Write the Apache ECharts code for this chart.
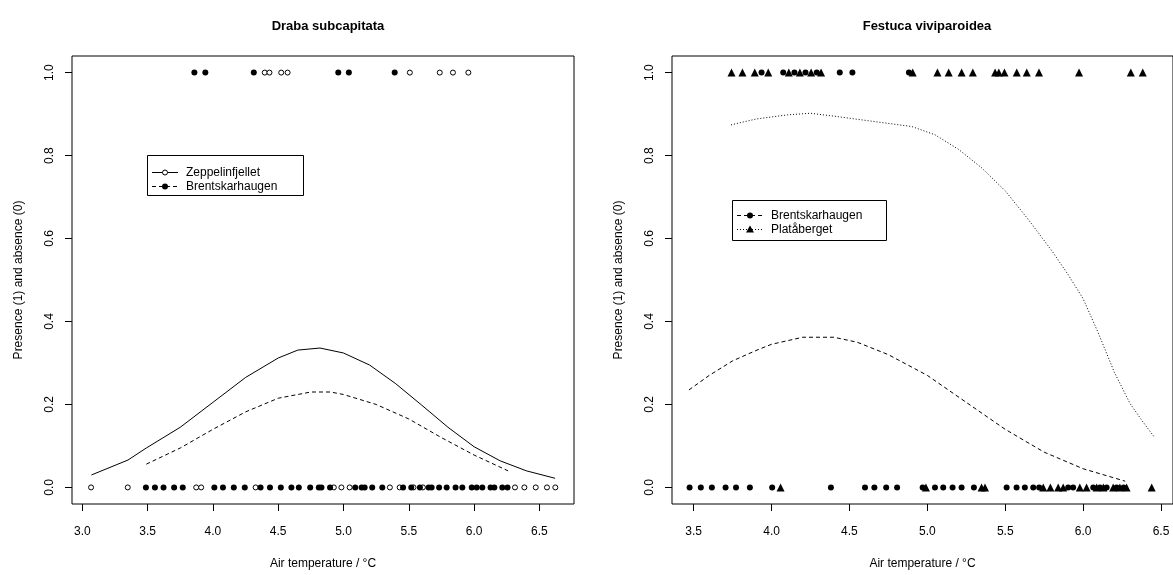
<!DOCTYPE html>
<html><head><meta charset="utf-8">
<script src="https://cdn.jsdelivr.net/npm/echarts@6/dist/echarts.min.js"></script>
<style>html,body{margin:0;padding:0;background:#fff}#c{width:1173px;height:575px}</style>
</head><body><div id="c"></div>
<script>
// ---------- tick labels ----------
const xTicksLeft = [3.0, 3.5, 4.0, 4.5, 5.0, 5.5, 6.0, 6.5];
const xTicksRight = [3.5, 4.0, 4.5, 5.0, 5.5, 6.0, 6.5];
const yTicks = [0, 0.2, 0.4, 0.6, 0.8, 1.0];

// ---------- Draba subcapitata ----------
const zepPresent = [4.397, 4.433, 4.523, 4.572, 5.508, 5.737, 5.838, 5.956];
const zepAbsent = [3.067, 3.348, 3.872, 3.910, 4.327, 4.926, 4.984, 5.047, 5.355, 5.430, 5.536, 5.608, 6.313, 6.385, 6.472, 6.558, 6.622];
const brentPresentL = [3.858, 3.942, 4.313, 4.960, 5.041, 5.392];
const brentAbsentL = [3.487, 3.556, 3.622, 3.703, 3.769, 4.011, 4.077, 4.160, 4.244, 4.365, 4.437, 4.520, 4.601, 4.658, 4.745, 4.811, 4.831, 4.897, 5.090, 5.139, 5.162, 5.220, 5.297, 5.456, 5.519, 5.585, 5.652, 5.675, 5.732, 5.790, 5.858, 5.910, 5.982, 6.020, 6.063, 6.126, 6.155, 6.216, 6.256];
const zepCurveX = [3.07, 3.35, 3.49, 3.75, 4.0, 4.25, 4.5, 4.65, 4.82, 5.0, 5.2, 5.4, 5.6, 5.8, 6.0, 6.2, 6.4, 6.62];
const zepCurveY = [0.030, 0.066, 0.095, 0.145, 0.205, 0.265, 0.312, 0.331, 0.336, 0.324, 0.295, 0.250, 0.198, 0.145, 0.098, 0.064, 0.040, 0.022];
const brentCurveLX = [3.49, 3.75, 4.0, 4.25, 4.5, 4.75, 4.9, 5.0, 5.25, 5.5, 5.75, 6.0, 6.26];
const brentCurveLY = [0.056, 0.095, 0.140, 0.182, 0.215, 0.230, 0.230, 0.224, 0.200, 0.165, 0.120, 0.078, 0.040];

// ---------- Festuca viviparoidea ----------
const brentPresentR = [3.936, 4.075, 4.147, 4.218, 4.290, 4.438, 4.519, 4.882];
const brentAbsentR = [3.474, 3.546, 3.617, 3.705, 3.772, 3.861, 4.004, 4.381, 4.600, 4.660, 4.736, 4.806, 4.970, 5.049, 5.102, 5.162, 5.220, 5.299, 5.509, 5.573, 5.626, 5.680, 5.718, 5.904, 5.936, 6.065, 6.108, 6.151, 6.215, 6.260];
const plataPresent = [3.743, 3.813, 3.892, 3.979, 4.111, 4.182, 4.254, 4.318, 4.906, 5.065, 5.137, 5.220, 5.292, 5.435, 5.459, 5.495, 5.574, 5.638, 5.717, 5.974, 6.306, 6.383];
const plataAbsent = [4.058, 4.991, 5.348, 5.370, 5.744, 5.790, 5.840, 5.872, 5.979, 6.022, 6.087, 6.130, 6.193, 6.236, 6.279, 6.440];
const brentCurveRX = [3.47, 3.6, 3.75, 3.9, 4.0, 4.2, 4.4, 4.55, 4.75, 5.0, 5.25, 5.5, 5.75, 6.0, 6.27];
const brentCurveRY = [0.235, 0.270, 0.305, 0.330, 0.345, 0.362, 0.362, 0.350, 0.320, 0.270, 0.205, 0.140, 0.085, 0.045, 0.015];
const plataCurveX = [3.74, 3.9, 4.1, 4.25, 4.4, 4.6, 4.9, 5.05, 5.2, 5.35, 5.5, 5.65, 5.8, 5.9, 6.0, 6.1, 6.2, 6.3, 6.38, 6.46];
const plataCurveY = [0.874, 0.888, 0.898, 0.902, 0.895, 0.885, 0.870, 0.850, 0.815, 0.770, 0.715, 0.645, 0.570, 0.515, 0.455, 0.370, 0.278, 0.203, 0.160, 0.120];

const FONT = '"Liberation Sans", Arial, sans-serif';
const pts = (xs, y) => xs.map(x => [x, y]);
const pairs = (xs, ys) => xs.map((x, i) => [x, ys[i]]);

function xAxis(gi, min, max, ticks) {
  return {
    type: 'value', gridIndex: gi, min: min, max: max, position: 'bottom',
    name: 'Air temperature / \u00b0C', nameLocation: 'middle', nameGap: 54,
    nameTextStyle: { fontFamily: FONT, fontSize: 12, color: '#000' },
    axisLine: { show: false, onZero: false },
    splitLine: { show: false },
    axisTick: { show: true, length: 7, inside: false, customValues: ticks, lineStyle: { color: '#000', width: 1 } },
    axisLabel: { customValues: ticks, margin: 22, fontFamily: FONT, fontSize: 12, color: '#000', formatter: v => v.toFixed(1) }
  };
}
function yAxis(gi) {
  return {
    type: 'value', gridIndex: gi, min: -0.04, max: 1.04, position: 'left',
    name: 'Presence (1) and absence (0)', nameLocation: 'middle', nameGap: 47, nameRotate: 90,
    nameTextStyle: { fontFamily: FONT, fontSize: 12, color: '#000' },
    axisLine: { show: false, onZero: false },
    splitLine: { show: false },
    axisTick: { show: true, length: 7, customValues: yTicks, lineStyle: { color: '#000', width: 1 } },
    axisLabel: { customValues: yTicks, rotate: 90, margin: 16, fontFamily: FONT, fontSize: 12, color: '#000', formatter: v => v.toFixed(1) }
  };
}
const openCircle = { color: '#fff', borderColor: '#000', borderWidth: 1, opacity: 1 };
const filled = { color: '#000', borderColor: '#000', borderWidth: 0, opacity: 1 };
function scatter(gi, data, symbol, size, style) {
  return { type: 'scatter', xAxisIndex: gi, yAxisIndex: gi, data: data, symbol: symbol, symbolSize: size, itemStyle: style, silent: true, animation: false, z: 3 };
}
function curve(gi, data, type) {
  return { type: 'line', xAxisIndex: gi, yAxisIndex: gi, data: data, showSymbol: false, symbol: 'none', smooth: false,
    lineStyle: { color: '#000', width: 1, type: type }, silent: true, animation: false, z: 2 };
}

const chart = echarts.init(document.getElementById('c'), null, { renderer: 'canvas' });
chart.setOption({
  animation: false,
  backgroundColor: '#fff',
  title: [
    { text: 'Draba subcapitata', left: 323, top: 15, textAlign: 'center', textStyle: { fontFamily: FONT, fontSize: 13, fontWeight: 'bold', color: '#000' } },
    { text: 'Festuca viviparoidea', left: 922, top: 15, textAlign: 'center', textStyle: { fontFamily: FONT, fontSize: 13, fontWeight: 'bold', color: '#000' } }
  ],
  grid: [
    { left: 72, right: 599, top: 56, bottom: 66, show: true, borderColor: '#000', borderWidth: 1, backgroundColor: 'transparent' },
    { left: 672, right: 0, top: 56, bottom: 66, show: true, borderColor: '#000', borderWidth: 1, backgroundColor: 'transparent' }
  ],
  xAxis: [xAxis(0, 2.921, 6.765, xTicksLeft), xAxis(1, 3.361, 6.577, xTicksRight)],
  yAxis: [yAxis(0), yAxis(1)],
  series: [
    curve(0, pairs(zepCurveX, zepCurveY), 'solid'),
    curve(0, pairs(brentCurveLX, brentCurveLY), [4, 3]),
    scatter(0, pts(zepPresent, 1), 'circle', 5, openCircle),
    scatter(0, pts(zepAbsent, 0), 'circle', 5, openCircle),
    scatter(0, pts(brentPresentL, 1), 'circle', 6, filled),
    scatter(0, pts(brentAbsentL, 0), 'circle', 6, filled),
    curve(1, pairs(brentCurveRX, brentCurveRY), [4, 3]),
    curve(1, pairs(plataCurveX, plataCurveY), [1, 2]),
    scatter(1, pts(brentPresentR, 1), 'circle', 6, filled),
    scatter(1, pts(brentAbsentR, 0), 'circle', 6, filled),
    scatter(1, pts(plataPresent, 1), 'triangle', 8, filled),
    scatter(1, pts(plataAbsent, 0), 'triangle', 8, filled)
  ],
  graphic: [
    // left legend
    { type: 'rect', shape: { x: 147.5, y: 155.5, width: 156, height: 40 }, style: { fill: '#fff', stroke: '#000', lineWidth: 1 }, z: 10 },
    { type: 'line', shape: { x1: 152, y1: 172.5, x2: 178, y2: 172.5 }, style: { stroke: '#000', lineWidth: 1 }, z: 11 },
    { type: 'circle', shape: { cx: 165, cy: 172.5, r: 2.5 }, style: { fill: '#fff', stroke: '#000', lineWidth: 1 }, z: 12 },
    { type: 'text', style: { x: 186, y: 172.5, text: 'Zeppelinfjellet', font: '12px ' + FONT, fill: '#000', verticalAlign: 'middle' }, z: 12 },
    { type: 'line', shape: { x1: 152, y1: 186.5, x2: 178, y2: 186.5 }, style: { stroke: '#000', lineWidth: 1, lineDash: [4, 3] }, z: 11 },
    { type: 'circle', shape: { cx: 165, cy: 186.5, r: 3 }, style: { fill: '#000' }, z: 12 },
    { type: 'text', style: { x: 186, y: 186.5, text: 'Brentskarhaugen', font: '12px ' + FONT, fill: '#000', verticalAlign: 'middle' }, z: 12 },
    // right legend
    { type: 'rect', shape: { x: 732.5, y: 200.5, width: 154, height: 40 }, style: { fill: '#fff', stroke: '#000', lineWidth: 1 }, z: 10 },
    { type: 'line', shape: { x1: 737, y1: 215.5, x2: 763, y2: 215.5 }, style: { stroke: '#000', lineWidth: 1, lineDash: [4, 3] }, z: 11 },
    { type: 'circle', shape: { cx: 750, cy: 215.5, r: 3 }, style: { fill: '#000' }, z: 12 },
    { type: 'text', style: { x: 771, y: 215.5, text: 'Brentskarhaugen', font: '12px ' + FONT, fill: '#000', verticalAlign: 'middle' }, z: 12 },
    { type: 'line', shape: { x1: 737, y1: 229.5, x2: 763, y2: 229.5 }, style: { stroke: '#000', lineWidth: 1, lineDash: [1, 2] }, z: 11 },
    { type: 'polygon', shape: { points: [[750, 225.5], [754, 232.5], [746, 232.5]] }, style: { fill: '#000' }, z: 12 },
    { type: 'text', style: { x: 771, y: 229.5, text: 'Plat\u00e5berget', font: '12px ' + FONT, fill: '#000', verticalAlign: 'middle' }, z: 12 }
  ]
});
</script>
</body></html>
